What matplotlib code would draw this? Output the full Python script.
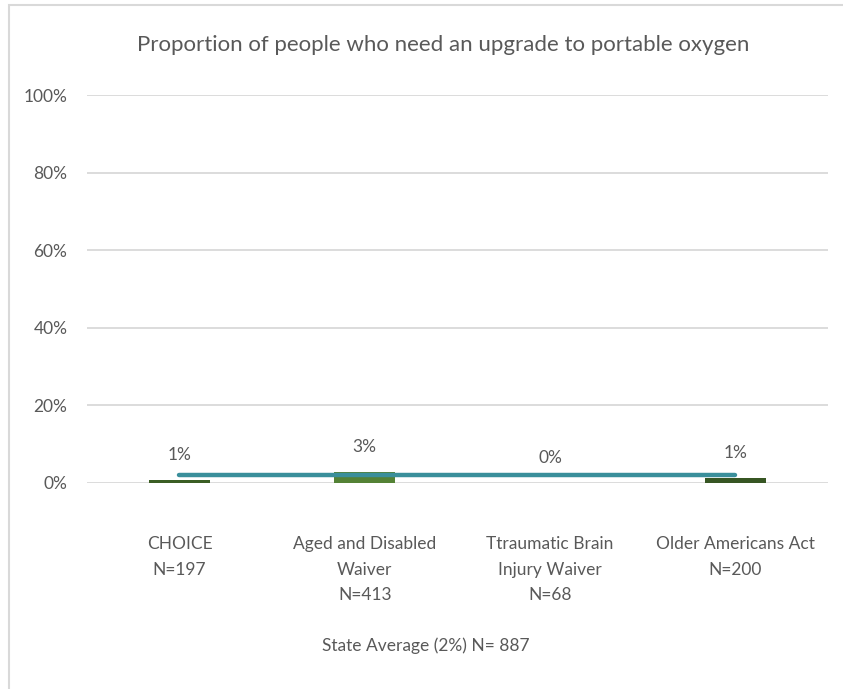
import matplotlib
matplotlib.use("Agg")
import matplotlib.pyplot as plt
from matplotlib.patches import Rectangle
from matplotlib.ticker import PercentFormatter

plt.rcParams['font.family'] = ['Lato', 'DejaVu Sans']

categories = ["CHOICE\nN=197", "Aged and Disabled\nWaiver\nN=413",
              "Ttraumatic Brain\nInjury Waiver\nN=68", "Older Americans Act\nN=200"]
values = [0.008, 0.028, 0.0, 0.012]
state_avg = [0.02, 0.02, 0.02, 0.02]
bar_colors = ["#3b5e24", "#548235", "#4a7a2c", "#375623"]

fig = plt.figure(figsize=(8.43, 6.89), dpi=100)
ax = fig.add_axes([0.103, 0.299, 0.879, 0.563])

# outer chart frame
fig.patches.append(Rectangle((9 / 843, -0.01), 1.0, 1 - 5 / 689 + 0.01,
                             transform=fig.transFigure, fill=False,
                             edgecolor="#d9d9d9", linewidth=1.5))

x = range(len(categories))
ax.bar(x, values, width=0.33, color=bar_colors, zorder=2)
ax.plot(x, state_avg, color="#3a8f9b", linewidth=3.2,
        solid_capstyle="round", zorder=3)

for i, v in enumerate(values):
    ax.annotate("{:.0%}".format(v), (i, v), xytext=(0, 12.5),
                textcoords="offset points", ha="center", va="bottom",
                fontsize=12.5, color="#595959")

ax.set_ylim(0, 1)
ax.set_xlim(-0.5, 3.5)
ax.set_yticks([0, 0.2, 0.4, 0.6, 0.8, 1.0])
ax.yaxis.set_major_formatter(PercentFormatter(1.0, decimals=0))
ax.set_xticks(list(x))
ax.set_xticklabels(categories, fontsize=12.5, color="#595959",
                   linespacing=1.75, va="top")
ax.tick_params(axis="y", labelsize=12.5, labelcolor="#595959", length=0, pad=14)
ax.tick_params(axis="x", length=0, pad=38)
ax.grid(axis="y", color="#d9d9d9", linewidth=1.3, zorder=0)
for s in ax.spines.values():
    s.set_visible(False)

fig.text(0.526, 0.935, "Proportion of people who need an upgrade to portable oxygen",
         ha="center", va="center", fontsize=16, color="#595959")
fig.text(0.505, 0.063, "State Average (2%) N= 887", ha="center", va="center",
         fontsize=12.5, color="#595959")

fig.savefig("out.png", dpi=100)
